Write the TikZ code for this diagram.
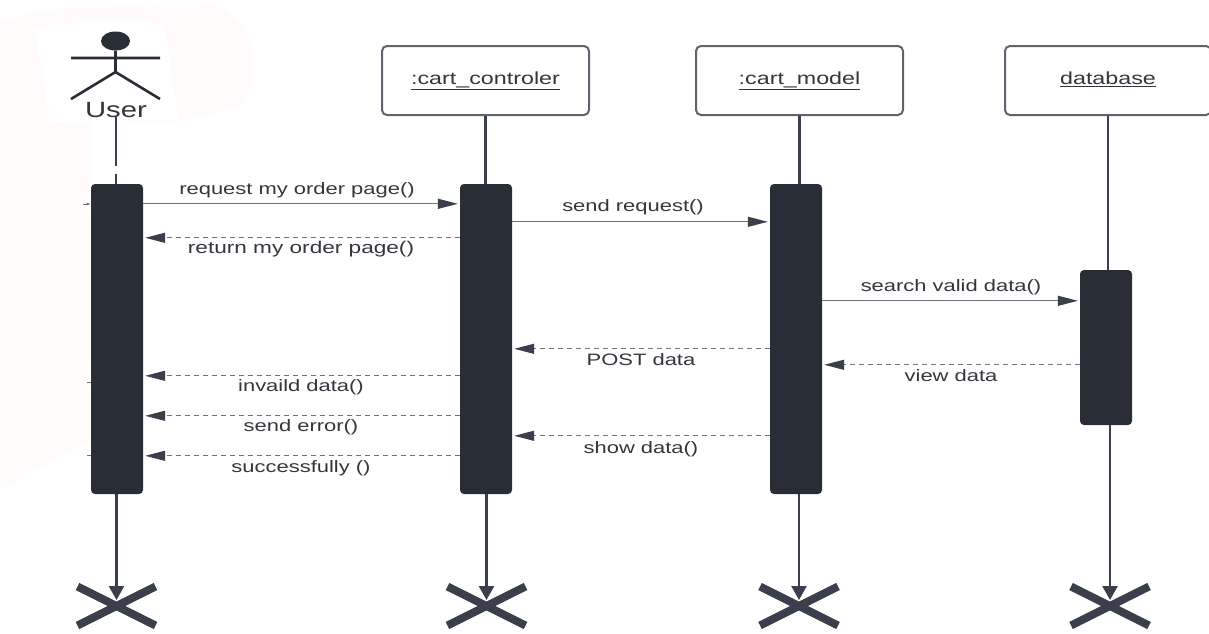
\documentclass[tikz,border=0pt]{standalone}
\usepackage{fontspec}
\setmainfont[FakeStretch=1.33]{Liberation Sans}
\usetikzlibrary{arrows.meta, positioning, calc, shapes.geometric}
\definecolor{sqdark}{HTML}{292D36}
\definecolor{sqline}{HTML}{3A3F4B}
\definecolor{sqgray}{HTML}{6E727A}
\definecolor{sqtext}{HTML}{33363C}
\definecolor{sqblush}{HTML}{FFFBFA}

\begin{document}
\begin{tikzpicture}[
  x=1pt, y=-1pt,
  every node/.style={font=\fontsize{16.5}{18}\selectfont, text=sqtext, inner sep=0pt, text height=12pt, text depth=4pt},
  objbox/.style={rectangle, rounded corners=5pt, draw=sqgray!70!sqline, line width=2pt, fill=white, minimum height=69pt, font=\fontsize{17.5}{18}\selectfont},
  actbar/.style={rectangle, rounded corners=4pt, fill=sqdark, minimum width=52pt},
  life/.style={draw=sqline, line width=2.4pt},
  endline/.style={draw=sqline, line width=2.4pt, shorten >=6pt, -{Triangle[length=14pt, width=15pt]}},
  cross/.style={draw=sqline, line width=8pt},
  msg/.style={draw=sqgray, line width=1.3pt, -{Triangle[length=20pt, width=10pt, sqline]}},
  reply/.style={draw=sqgray, line width=1.3pt, dash pattern=on 5pt off 4pt, -{Triangle[length=20pt, width=10pt, sqline]}},
  stub/.style={draw=sqgray, line width=0.9pt},
]
\useasboundingbox (0,0) rectangle (1209,633);

% faint patch behind the actor
\fill[sqblush] (0,20) -- (60,8) -- (215,5) .. controls (250,15) and (262,60) .. (245,105) -- (178,122) -- (90,122) -- (90,440) -- (0,490) -- cycle;
\fill[white] (35,30) .. controls (90,18) and (140,18) .. (165,26) -- (178,120) -- (50,122) -- cycle;

% actor
\node[ellipse, fill=sqdark, minimum width=29pt, minimum height=19pt, text height=0pt, text depth=0pt] (head) at (115.5,41) {};
\coordinate (hip) at (115.5,72);
\coordinate (armL) at (71,58);
\coordinate (armR) at (160,58);
\coordinate (legL) at (71,99);
\coordinate (legR) at (160,99);
\draw[line width=2.6pt, sqdark] (head.south) -- (hip) (armL) -- (armR) (legL) -- (hip) -- (legR);
\node[font=\fontsize{22}{24}\selectfont, text height=16pt, text depth=0pt] (user) at (116,109) {User};

% objects
\node[objbox, minimum width=207pt] (ctrl) at (485.5,80.5) {\underline{:cart\_controler}};
\node[objbox, minimum width=207pt] (model) at (799.5,80.5) {\underline{:cart\_model}};
\node[objbox, minimum width=206pt] (db) at (1108,80.5) {\underline{database}};

% activation bars
\node[actbar, minimum height=310pt] (barUser) at (117,339) {};
\node[actbar, minimum height=310pt] (barCtrl) at (486,339) {};
\node[actbar, minimum height=310pt] (barModel) at (796,339) {};
\node[actbar, minimum height=155pt] (barDb) at (1106,347.5) {};

% lifelines
\coordinate (gapA) at (116,166);
\coordinate (gapB) at (116,174);
\draw[life] (user.south) -- (gapA) (gapB) -- (barUser.north -| gapB);
\draw[life] (ctrl.south) -- (ctrl.south |- barCtrl.north);
\draw[life] (model.south) -- (model.south |- barModel.north);
\draw[life] (db.south) -- (db.south |- barDb.north);

% crosses
\coordinate (endUser) at (116.5,606);
\coordinate (endCtrl) at (486.5,606);
\coordinate (endModel) at (799,606);
\coordinate (endDb) at (1110,606);
\foreach \e in {endUser, endCtrl, endModel, endDb} {
  \draw[cross] ($(\e)+(-39,-19.5)$) -- ($(\e)+(39,19.5)$);
  \draw[cross] ($(\e)+(-39,19.5)$) -- ($(\e)+(39,-19.5)$);
}
\draw[endline] (endUser |- barUser.south) -- (endUser);
\draw[endline] (endCtrl |- barCtrl.south) -- (endCtrl);
\draw[endline] (endModel |- barModel.south) -- (endModel);
\draw[endline] (endDb |- barDb.south) -- (endDb);

% messages
\draw[msg] ([yshift=-20pt]barUser.north east) -- ([yshift=-20pt, xshift=-2pt]barCtrl.north west);
\draw[msg] ([yshift=-38pt]barCtrl.north east) -- ([yshift=-38pt, xshift=-2pt]barModel.north west);
\draw[msg] ([yshift=-31pt]barDb.north west -| barModel.east) -- ([yshift=-31pt, xshift=-2pt]barDb.north west);
\draw[reply] ([yshift=-54pt]barCtrl.north west) -- ([yshift=-54pt, xshift=2pt]barUser.north east);
\draw[reply] ([yshift=-192pt]barCtrl.north west) -- ([yshift=-192pt, xshift=2pt]barUser.north east);
\draw[reply] ([yshift=-232pt]barCtrl.north west) -- ([yshift=-232pt, xshift=2pt]barUser.north east);
\draw[reply] ([yshift=-272pt]barCtrl.north west) -- ([yshift=-272pt, xshift=2pt]barUser.north east);
\draw[reply] ([yshift=-165pt]barModel.north west) -- ([yshift=-165pt, xshift=2pt]barCtrl.north east);
\draw[reply] ([yshift=-252pt]barModel.north west) -- ([yshift=-252pt, xshift=2pt]barCtrl.north east);
\draw[reply] ([yshift=-95pt]barDb.north west) -- ([yshift=-95pt, xshift=2pt]barDb.north west -| barModel.east);

% labels
\node (lblRequest) at (297,190) {request my order page()};
\node[font=\fontsize{17}{18}\selectfont] (lblReturn) at (301,249) {return my order page()};
\node (lblSend) at (633,207) {send request()};
\node (lblSearch) at (951,287) {search valid data()};
\node (lblPost) at (641,361) {POST data};
\node (lblView) at (951,377) {view data};
\node (lblInvalid) at (301,387) {invaild data()};
\node (lblError) at (301,427) {send error()};
\node (lblShow) at (641,449) {show data()};
\node (lblOk) at (301,468) {successfully ()};

% stubs left of the user bar
\coordinate (stubA) at (83,204);
\coordinate (stubB) at (87,382);
\coordinate (stubC) at (87,455);
\draw[stub, -{Latex[length=4pt, width=3pt]}] (stubA) -- (stubA -| barUser.west);
\draw[stub] (stubB) -- (stubB -| barUser.west);
\draw[stub] (stubC) -- (stubC -| barUser.west);
\end{tikzpicture}
\end{document}
